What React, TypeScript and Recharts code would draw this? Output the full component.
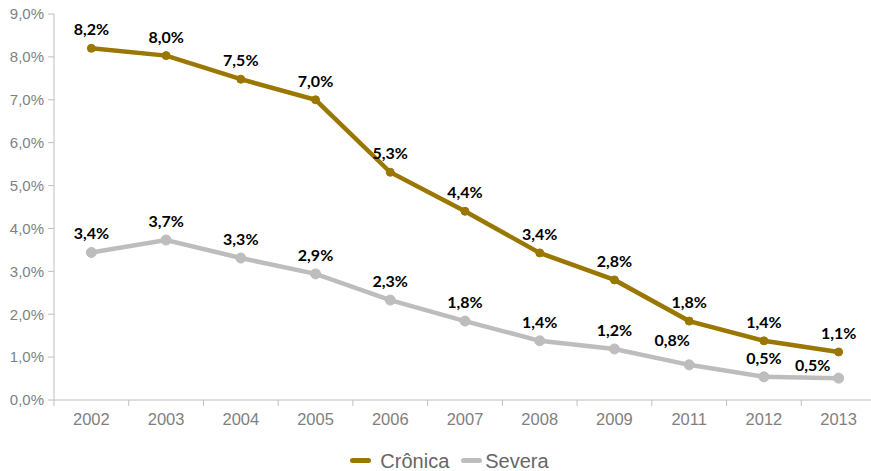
import { LineChart, Line, XAxis, YAxis, Legend, LabelList } from 'recharts';

// Categories (no 2010 in the source)
const years = ['2002', '2003', '2004', '2005', '2006', '2007', '2008', '2009', '2011', '2012', '2013'];
// Percent values
const cronica = [8.2, 8.03, 7.48, 7.0, 5.31, 4.4, 3.43, 2.8, 1.84, 1.38, 1.12];
const severa = [3.44, 3.73, 3.31, 2.94, 2.33, 1.84, 1.38, 1.19, 0.82, 0.54, 0.51];
const yTicks = [0, 1, 2, 3, 4, 5, 6, 7, 8, 9];

const GOLD = '#9a7700';
const GRAY = '#bdbdbd';
const AXIS = '#bfbfbf';
const TICK_TEXT = '#7f7f7f';
const BAND = (871 + 5 - 54) / years.length;

const data = years.map((year, i) => ({ year, cronica: cronica[i], severa: severa[i] }));

// Format 8.2 -> "8,2%"
function fmt(v: number) {
  return `${v.toFixed(1).replace('.', ',')}%`;
}

// Some labels of the grey series are nudged, as in the original
const severaNudge: Record<number, [number, number]> = {
  8: [-17, -6],
  10: [-26, 6],
};

function makeLabel(nudge: Record<number, [number, number]>) {
  return (props: any) => {
    const { x, y, value, index } = props;
    const [dx, dy] = nudge[index] ?? [0, 0];
    return (
      <text
        x={Number(x) + dx}
        y={Number(y) - 13 + dy}
        textAnchor="middle"
        fontFamily="Lato, sans-serif"
        fontWeight="bold"
        fontSize={16}
        fill="#000"
      >
        {fmt(Number(value))}
      </text>
    );
  };
}

function YearTick(props: any) {
  const { x, y, payload, index } = props;
  const half = BAND / 2;
  return (
    <g>
      <line x1={x - half} x2={x - half} y1={y} y2={y + 6} stroke={AXIS} />
      {index === years.length - 1 && <line x1={x + half} x2={x + half} y1={y} y2={y + 6} stroke={AXIS} />}
      <text x={x} y={y + 25} textAnchor="middle" fontFamily="'Liberation Sans', Arial, sans-serif" fontSize={16.5} fill={TICK_TEXT}>
        {payload.value}
      </text>
    </g>
  );
}

function LegendBox() {
  const item = (color: string, label: string, gap: number) => (
    <div style={{ display: 'flex', alignItems: 'center', marginRight: 12 }}>
      <div style={{ width: 21, height: 5, borderRadius: 3, background: color, marginRight: gap }} />
      <span style={{ fontFamily: "'Liberation Sans', Arial, sans-serif", fontSize: 20, color: '#666', lineHeight: '20px' }}>{label}</span>
    </div>
  );
  return (
    <div style={{ height: 41, paddingTop: 20, boxSizing: 'border-box', display: 'flex', justifyContent: 'center', paddingLeft: 40 }}>
      {item(GOLD, 'Crônica', 9)}
      {item(GRAY, 'Severa', 3)}
    </div>
  );
}

export default function App() {
  return (
    <div style={{ position: 'fixed', left: 0, top: 0, width: 871, height: 471, overflow: 'hidden', background: '#fff' }}>
      <LineChart width={871} height={471} data={data} margin={{ top: 14, right: -5, left: 0, bottom: 0 }}>
        <XAxis
          dataKey="year"
          height={30}
          axisLine={{ stroke: AXIS }}
          tickLine={false}
          tickSize={0}
          tickMargin={0}
          interval={0}
          padding={{ left: BAND / 2, right: BAND / 2 }}
          tick={<YearTick />}
        />
        <YAxis
          width={54}
          domain={[0, 9]}
          ticks={yTicks}
          tickFormatter={fmt}
          axisLine={{ stroke: AXIS }}
          tickLine={{ stroke: AXIS }}
          tickSize={6}
          tickMargin={4}
          tick={{ fill: TICK_TEXT, fontSize: 15, fontFamily: "'Liberation Sans', Arial, sans-serif" }}
        />
        <Legend verticalAlign="bottom" content={() => <LegendBox />} wrapperStyle={{ left: 0, width: 871 }} />
        <Line
          dataKey="cronica"
          name="Crônica"
          stroke={GOLD}
          strokeWidth={4.5}
          dot={{ r: 4, fill: GOLD, stroke: GOLD, strokeWidth: 1 }}
          isAnimationActive={false}
        >
          <LabelList dataKey="cronica" content={makeLabel({})} />
        </Line>
        <Line
          dataKey="severa"
          name="Severa"
          stroke={GRAY}
          strokeWidth={4.5}
          dot={{ r: 5, fill: GRAY, stroke: GRAY, strokeWidth: 1 }}
          isAnimationActive={false}
        >
          <LabelList dataKey="severa" content={makeLabel(severaNudge)} />
        </Line>
      </LineChart>
    </div>
  );
}
